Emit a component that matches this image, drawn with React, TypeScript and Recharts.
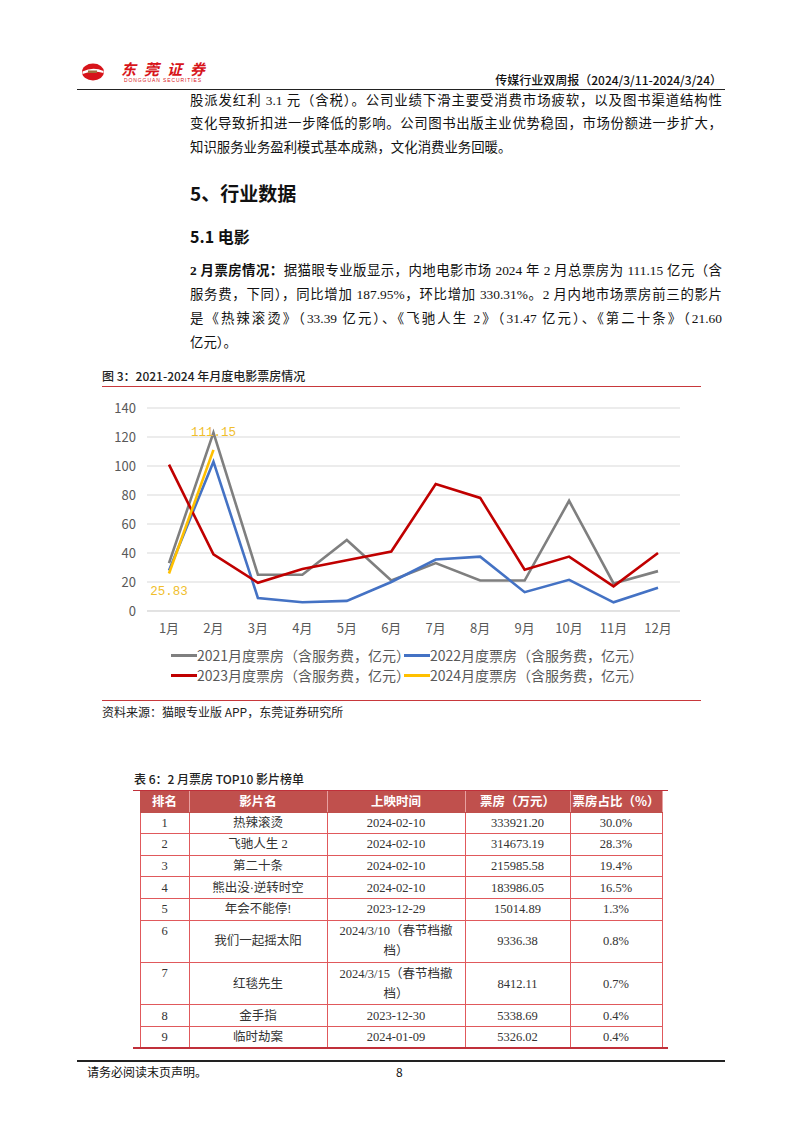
import { LineChart, Line, XAxis, YAxis, CartesianGrid, LabelList } from "recharts";

const months = ["1月", "2月", "3月", "4月", "5月", "6月", "7月", "8月", "9月", "10月", "11月", "12月"];
const box2021 = [33, 123, 25, 25, 49, 21, 33, 21, 21, 76, 19, 27.5];
const box2022 = [28, 103, 9, 6, 7, 20, 35.5, 37.5, 13, 21.5, 6, 16];
const box2023 = [101, 39, 19.5, 29, 35, 41, 87.5, 78, 28.5, 37.5, 17, 40];
const box2024 = [25.83, 111.15];
const yTicks = [0, 20, 40, 60, 80, 100, 120, 140];

const series = [
  { key: "y2021", name: "2021月度票房（含服务费，亿元）", color: "#7F7F7F" },
  { key: "y2022", name: "2022月度票房（含服务费，亿元）", color: "#4472C4" },
  { key: "y2023", name: "2023月度票房（含服务费，亿元）", color: "#C00000" },
  { key: "y2024", name: "2024月度票房（含服务费，亿元）", color: "#FFC000" },
];

const data = months.map((m, i) => ({
  month: m,
  y2021: box2021[i],
  y2022: box2022[i],
  y2023: box2023[i],
  y2024: box2024[i] ?? null,
}));

// top 10 table
const ranks = ["1", "2", "3", "4", "5", "6", "7", "8", "9"];
const titles = ["热辣滚烫", "飞驰人生 2", "第二十条", "熊出没·逆转时空", "年会不能停!", "我们一起摇太阳", "红毯先生", "金手指", "临时劫案"];
const releaseDates = ["2024-02-10", "2024-02-10", "2024-02-10", "2024-02-10", "2023-12-29", "2024/3/10（春节档撤|档）", "2024/3/15（春节档撤|档）", "2023-12-30", "2024-01-09"];
const grosses = ["333921.20", "314673.19", "215985.58", "183986.05", "15014.89", "9336.38", "8412.11", "5338.69", "5326.02"];
const shares = ["30.0%", "28.3%", "19.4%", "16.5%", "1.3%", "0.8%", "0.7%", "0.4%", "0.4%"];
const headers = ["排名", "影片名", "上映时间", "票房（万元）", "票房占比（%）"];
const colWidths = [49, 138, 138, 105, 92];

const SERIF = '"Liberation Serif", "Noto Sans CJK SC", serif';
const SANS = '"Noto Sans CJK SC", "Noto Sans", sans-serif';

const YellowLabel = (props: any) => {
  const { x, y, value, index } = props;
  if (value == null) return null;
  const dy = index === 0 ? 18 : -17;
  return (
    <text x={x} y={y + dy} textAnchor="middle" dominantBaseline="central" fill="#F0BE2C" fontSize={12.5} fontFamily='"Liberation Mono", monospace'>
      {Number(value).toFixed(2)}
    </text>
  );
};

const line = (top: number, left: number, width: number, h: number, color: string) => (
  <div style={{ position: "absolute", top, left, width, height: h, background: color }} />
);

const textLine = (txt: any, top: number, justify = true) => (
  <div
    style={{
      position: "absolute",
      left: 190,
      top,
      width: 532,
      height: 24,
      lineHeight: "24px",
      fontSize: 13.4,
      fontFamily: SERIF,
      color: "#111",
      whiteSpace: "nowrap",
      textAlign: justify ? "justify" : "left",
      textAlignLast: justify ? "justify" : "left",
    }}
  >
    {txt}
  </div>
);

function BoxOfficeChart() {
  return (
    <div style={{ position: "absolute", left: 90, top: 395, width: 610, height: 300 }}>
      <LineChart width={610} height={246} data={data} margin={{ top: 13, right: 20, bottom: 0, left: 0 }}>
        <CartesianGrid vertical={false} stroke="#D9D9D9" />
        <XAxis
          dataKey="month"
          interval={0}
          padding={{ left: 22, right: 22 }}
          tickLine={false}
          axisLine={{ stroke: "#D9D9D9" }}
          tickMargin={7}
          tick={{ fill: "#595959", fontSize: 13, fontFamily: SANS }}
        />
        <YAxis
          domain={[0, 140]}
          ticks={yTicks}
          width={57}
          axisLine={false}
          tickLine={false}
          tickMargin={5}
          tick={{ fill: "#595959", fontSize: 13, fontFamily: SANS }}
        />
        {series.map((s) => (
          <Line
            key={s.key}
            type="linear"
            dataKey={s.key}
            stroke={s.color}
            strokeWidth={2.6}
            dot={false}
            activeDot={false}
            isAnimationActive={false}
          >
            {s.key === "y2024" && <LabelList dataKey="y2024" content={YellowLabel} />}
          </Line>
        ))}
      </LineChart>
      {series.map((s, i) => (
        <div
          key={s.key}
          style={{
            position: "absolute",
            left: (i % 2 === 0 ? 171 : 404) - 90,
            top: (i < 2 ? 655 : 675) - 395 - 10,
            height: 20,
            display: "flex",
            alignItems: "center",
            fontFamily: SANS,
            fontSize: 14,
            color: "#595959",
            whiteSpace: "nowrap",
          }}
        >
          <span style={{ display: "inline-block", width: 26, height: 3, background: s.color }} />
          <span>{s.name}</span>
        </div>
      ))}
    </div>
  );
}

export default function App() {
  const rowHeights = [21.6, 21.6, 21.6, 21.6, 21.6, 42.4, 42.4, 21.6, 21.6];
  const cellBase: any = {
    border: "1px solid #E0595C",
    padding: 0,
    textAlign: "center",
    verticalAlign: "middle",
    overflow: "hidden",
    lineHeight: "16px",
    boxSizing: "border-box",
  };
  return (
    <div style={{ position: "absolute", left: 0, top: 0, width: 802, height: 1133, background: "#fff", overflow: "hidden" }}>
      {/* header */}
      <svg width={24} height={20} style={{ position: "absolute", left: 81, top: 62 }}>
        <ellipse cx={12} cy={10} rx={11} ry={8.5} fill="#D7141A" />
        <path d="M1.5 9.5 Q12 4.5 22.5 9 L22.5 11 Q12 7.5 1.5 12 Z" fill="#fff" />
        <rect x={7} y={8.5} width={9} height={2.5} fill="#A0703C" />
      </svg>
      <div style={{ position: "absolute", left: 121, top: 62, height: 14, lineHeight: "14px", fontFamily: SANS, fontWeight: 700, fontStyle: "italic", fontSize: 15, letterSpacing: 8, color: "#D7141A" }}>
        东莞证券
      </div>
      <div style={{ position: "absolute", left: 124, top: 77, fontFamily: '"Liberation Sans", sans-serif', fontSize: 5, letterSpacing: 0.9, color: "#D7141A", lineHeight: "6px" }}>
        DONGGUAN SECURITIES
      </div>
      <div style={{ position: "absolute", right: 80, top: 71, height: 18, lineHeight: "18px", fontFamily: SANS, fontSize: 12, fontWeight: 500, color: "#111", whiteSpace: "nowrap" }}>
        传媒行业双周报（2024/3/11-2024/3/24）
      </div>
      {line(88.5, 77, 648, 1.5, "#222")}

      {/* body text */}
      {textLine("股派发红利 3.1 元（含税）。公司业绩下滑主要受消费市场疲软，以及图书渠道结构性", 89)}
      {textLine("变化导致折扣进一步降低的影响。公司图书出版主业优势稳固，市场份额进一步扩大，", 112)}
      {textLine("知识服务业务盈利模式基本成熟，文化消费业务回暖。", 136, false)}

      <div style={{ position: "absolute", left: 190, top: 180, height: 26, lineHeight: "26px", fontFamily: SANS, fontWeight: 700, fontSize: 19, color: "#111" }}>
        5、行业数据
      </div>
      <div style={{ position: "absolute", left: 190, top: 225, height: 22, lineHeight: "22px", fontFamily: SANS, fontWeight: 700, fontSize: 16, color: "#111" }}>
        5.1 电影
      </div>

      {textLine(<><b>2 月票房情况：</b>据猫眼专业版显示，内地电影市场 2024 年 2 月总票房为 111.15 亿元（含</>, 258.5)}
      {textLine("服务费，下同），同比增加 187.95%，环比增加 330.31%。2 月内地市场票房前三的影片", 282.5)}
      {textLine("是《热辣滚烫》（33.39 亿元）、《飞驰人生 2》（31.47 亿元）、《第二十条》（21.60", 306.5)}
      {textLine("亿元）。", 330.5, false)}

      {/* figure */}
      <div style={{ position: "absolute", left: 102, top: 367, height: 18, lineHeight: "18px", fontFamily: SANS, fontSize: 12, fontWeight: 500, color: "#222", whiteSpace: "nowrap" }}>
        图 3：2021-2024 年月度电影票房情况
      </div>
      {line(386, 102, 599, 1, "#C8383B")}
      <BoxOfficeChart />
      {line(700, 102, 599, 1, "#C8383B")}
      <div style={{ position: "absolute", left: 102, top: 703, height: 18, lineHeight: "18px", fontFamily: SANS, fontSize: 12, color: "#222", whiteSpace: "nowrap" }}>
        资料来源：猫眼专业版 APP，东莞证券研究所
      </div>

      {/* table */}
      <div style={{ position: "absolute", left: 134, top: 770, height: 18, lineHeight: "18px", fontFamily: SANS, fontSize: 12, fontWeight: 500, color: "#222", whiteSpace: "nowrap" }}>
        表 6：2 月票房 TOP10 影片榜单
      </div>
      <table
        style={{
          position: "absolute",
          left: 139.5,
          top: 790,
          width: 522,
          borderCollapse: "collapse",
          tableLayout: "fixed",
          fontFamily: SERIF,
          fontSize: 12.5,
          color: "#333",
        }}
      >
        <colgroup>
          {colWidths.map((w, i) => (
            <col key={i} style={{ width: w }} />
          ))}
        </colgroup>
        <tbody>
          <tr style={{ height: 21.6, background: "#C0504D" }}>
            {headers.map((h) => (
              <td key={h} style={{ ...cellBase, color: "#fff", fontWeight: 700, fontFamily: SANS, fontSize: 12.5, border: "1px solid #C0504D", borderRight: "1px solid #E8A0A0" }}>
                {h}
              </td>
            ))}
          </tr>
          {ranks.map((r, i) => {
            const tall = rowHeights[i] > 30;
            const parts = releaseDates[i].split("|");
            return (
              <tr key={r} style={{ height: rowHeights[i] }}>
                <td style={{ ...cellBase, verticalAlign: tall ? "top" : "middle", lineHeight: tall ? "20px" : "16px" }}>{r}</td>
                <td style={cellBase}>{titles[i]}</td>
                <td style={{ ...cellBase, lineHeight: tall ? "20px" : "16px" }}>
                  {parts.map((p, k) => (
                    <div key={k}>{p}</div>
                  ))}
                </td>
                <td style={cellBase}>{grosses[i]}</td>
                <td style={cellBase}>{shares[i]}</td>
              </tr>
            );
          })}
        </tbody>
      </table>
      {line(789.5, 133, 535, 1.5, "#C0303A")}
      {line(1047, 133, 535, 1.5, "#C0303A")}

      {/* footer */}
      {line(1060, 77, 648, 1.5, "#222")}
      <div style={{ position: "absolute", left: 87, top: 1063, height: 18, lineHeight: "18px", fontFamily: SANS, fontSize: 12, color: "#111" }}>
        请务必阅读末页声明。
      </div>
      <div style={{ position: "absolute", left: 396, top: 1063, height: 18, lineHeight: "18px", fontFamily: SANS, fontSize: 12, color: "#111" }}>
        8
      </div>
    </div>
  );
}
